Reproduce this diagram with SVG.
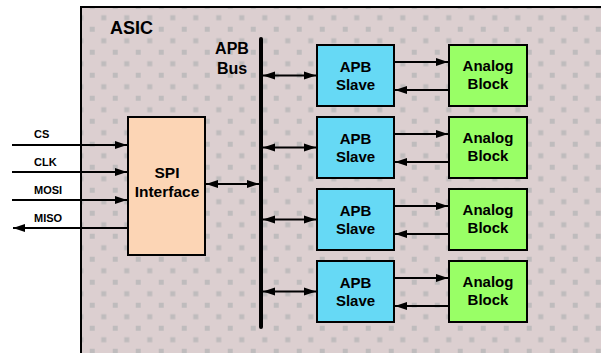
<svg xmlns="http://www.w3.org/2000/svg" width="601" height="353" viewBox="0 0 601 353">
<style>
.box{stroke:#000;stroke-width:2}
.slave{fill:#66d9f5}
.analog{fill:#99ff66}
.spi{fill:#fcd5b5}
.t{font-family:"Liberation Sans",Arial,sans-serif;font-weight:bold;fill:#000}
.ln{stroke:#000;stroke-width:2;fill:none}
</style>
<defs>
<pattern id="dots" patternUnits="userSpaceOnUse" x="89.75" y="256.75" width="23" height="23">
<rect width="23" height="23" fill="#dccfd0"/>
<rect x="0" y="0" width="5" height="5" fill="#bfbcbd"/>
<rect x="11.5" y="11.5" width="5" height="5" fill="#bfbcbd"/>
</pattern>
<marker id="ah" markerUnits="userSpaceOnUse" markerWidth="13" markerHeight="9" refX="12" refY="4.5" orient="auto-start-reverse">
<path d="M0,0.5 L12,4.5 L0,8.5 z" fill="#000"/>
</marker>
</defs>
<g id="asic">
<rect x="81" y="7" width="600" height="400" fill="url(#dots)" stroke="#000" stroke-width="2"/>
<text class="t" x="110" y="34" font-size="18">ASIC</text>
</g>
<g id="bus">
<line x1="261" y1="39" x2="261" y2="327" stroke="#000" stroke-width="4" stroke-linecap="round"/>
<text class="t" x="232" y="54" font-size="16" text-anchor="middle">APB</text>
<text class="t" x="232" y="74" font-size="16" text-anchor="middle">Bus</text>
</g>
<g id="spi">
<rect class="box spi" x="128" y="117" width="77" height="138"/>
<text class="t" x="167" y="178" font-size="15.5" text-anchor="middle">SPI</text>
<text class="t" x="167" y="197" font-size="15.5" text-anchor="middle">Interface</text>
</g>
<g id="slave1"><rect class="box slave" x="317" y="45" width="77" height="61"/><text class="t" x="355.5" y="72" font-size="15" text-anchor="middle">APB</text><text class="t" x="355.5" y="90" font-size="15" text-anchor="middle">Slave</text></g>
<g id="slave2"><rect class="box slave" x="317" y="117" width="77" height="61"/><text class="t" x="355.5" y="144" font-size="15" text-anchor="middle">APB</text><text class="t" x="355.5" y="162" font-size="15" text-anchor="middle">Slave</text></g>
<g id="slave3"><rect class="box slave" x="317" y="189" width="77" height="61"/><text class="t" x="355.5" y="216" font-size="15" text-anchor="middle">APB</text><text class="t" x="355.5" y="234" font-size="15" text-anchor="middle">Slave</text></g>
<g id="slave4"><rect class="box slave" x="317" y="261" width="77" height="61"/><text class="t" x="355.5" y="288" font-size="15" text-anchor="middle">APB</text><text class="t" x="355.5" y="306" font-size="15" text-anchor="middle">Slave</text></g>
<g id="analog1"><rect class="box analog" x="449" y="45" width="78" height="61"/><text class="t" x="488" y="71" font-size="15" text-anchor="middle">Analog</text><text class="t" x="488" y="89" font-size="15" text-anchor="middle">Block</text></g>
<g id="analog2"><rect class="box analog" x="449" y="117" width="78" height="61"/><text class="t" x="488" y="143" font-size="15" text-anchor="middle">Analog</text><text class="t" x="488" y="161" font-size="15" text-anchor="middle">Block</text></g>
<g id="analog3"><rect class="box analog" x="449" y="189" width="78" height="61"/><text class="t" x="488" y="215" font-size="15" text-anchor="middle">Analog</text><text class="t" x="488" y="233" font-size="15" text-anchor="middle">Block</text></g>
<g id="analog4"><rect class="box analog" x="449" y="261" width="78" height="61"/><text class="t" x="488" y="287" font-size="15" text-anchor="middle">Analog</text><text class="t" x="488" y="305" font-size="15" text-anchor="middle">Block</text></g>
<g id="signals">
<text class="t" x="34" y="138" font-size="11">CS</text>
<text class="t" x="34" y="166" font-size="11">CLK</text>
<text class="t" x="34" y="194" font-size="11">MOSI</text>
<text class="t" x="34" y="222" font-size="11">MISO</text>
</g>
<g id="connectors">
<line class="ln" x1="12" y1="145" x2="127" y2="145" marker-end="url(#ah)"/>
<line class="ln" x1="12" y1="172" x2="127" y2="172" marker-end="url(#ah)"/>
<line class="ln" x1="12" y1="200" x2="127" y2="200" marker-end="url(#ah)"/>
<line class="ln" x1="128" y1="228" x2="13" y2="228" marker-end="url(#ah)"/>
<line class="ln" x1="206" y1="184" x2="259" y2="184" marker-start="url(#ah)" marker-end="url(#ah)"/>
<line class="ln" x1="263" y1="75.5" x2="316" y2="75.5" marker-start="url(#ah)" marker-end="url(#ah)"/>
<line class="ln" x1="263" y1="147.5" x2="316" y2="147.5" marker-start="url(#ah)" marker-end="url(#ah)"/>
<line class="ln" x1="263" y1="219.5" x2="316" y2="219.5" marker-start="url(#ah)" marker-end="url(#ah)"/>
<line class="ln" x1="263" y1="291.5" x2="316" y2="291.5" marker-start="url(#ah)" marker-end="url(#ah)"/>
<line class="ln" x1="394" y1="62" x2="448" y2="62" marker-end="url(#ah)"/>
<line class="ln" x1="449" y1="90" x2="395" y2="90" marker-end="url(#ah)"/>
<line class="ln" x1="394" y1="134" x2="448" y2="134" marker-end="url(#ah)"/>
<line class="ln" x1="449" y1="162" x2="395" y2="162" marker-end="url(#ah)"/>
<line class="ln" x1="394" y1="206" x2="448" y2="206" marker-end="url(#ah)"/>
<line class="ln" x1="449" y1="234" x2="395" y2="234" marker-end="url(#ah)"/>
<line class="ln" x1="394" y1="278" x2="448" y2="278" marker-end="url(#ah)"/>
<line class="ln" x1="449" y1="306" x2="395" y2="306" marker-end="url(#ah)"/>
</g>
</svg>
